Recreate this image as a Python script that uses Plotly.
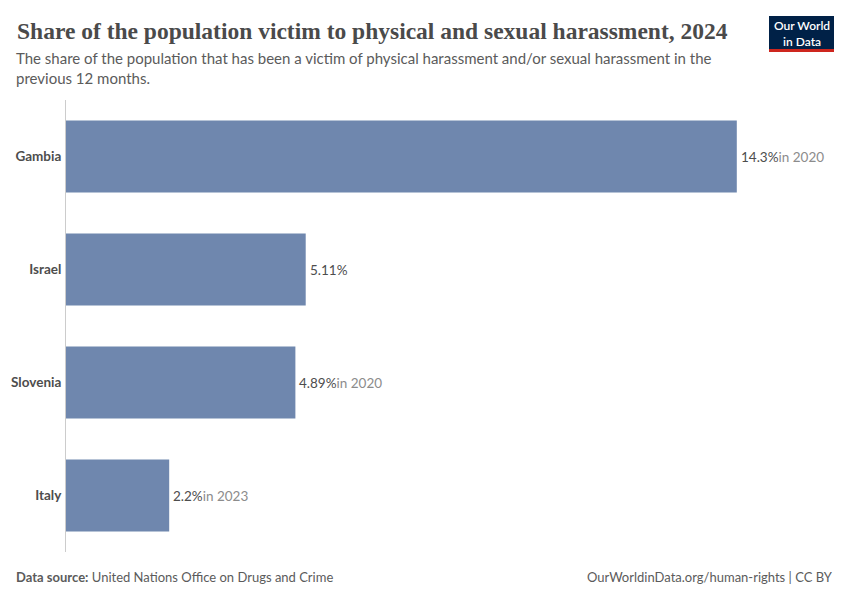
import plotly.graph_objects as go

# data
countries = ["Gambia", "Israel", "Slovenia", "Italy"]
values = [14.3, 5.11, 4.89, 2.2]
value_labels = ["14.3%", "5.11%", "4.89%", "2.2%"]
year_notes = ["in 2020", "", "in 2020", "in 2023"]

W, H = 850, 600
OFF = 8  # the page body adds an 8px margin, so shift everything back by that
L, R, T, B = 66 - OFF, 18, 100 - OFF, 56
BAR_COLOR = "#6f87ae"
GREY = "#5b5b5b"


# paper coords are relative to the plot area, so convert from screen pixels
def px(x):
    return (x - OFF - L) / (W - L - R)


def py(y):
    return (H - B - (y - OFF)) / (H - T - B)


fig = go.Figure()
fig.add_trace(go.Bar(
    x=values, y=countries, orientation="h",
    marker=dict(color=BAR_COLOR, line=dict(width=0)),
    hoverinfo="skip",
))

# value labels at bar ends
for c, v, lab, note in zip(countries, values, value_labels, year_notes):
    txt = f"<span style='color:#4d4d4d'>{lab}</span>"
    if note:
        txt += f"<span style='color:#8c8c8c'>{note}</span>"
    fig.add_annotation(x=v, y=c, xref="x", yref="y", text=txt, showarrow=False,
                       xanchor="left", xshift=2, font=dict(family="Lato", size=13.5))

fig.update_layout(
    width=W, height=H,
    margin=dict(l=L, r=R, t=T, b=B),
    paper_bgcolor="white", plot_bgcolor="white",
    bargap=0.363,
    showlegend=False,
    font=dict(family="Lato", color=GREY),
    xaxis=dict(range=[0, 16.5], showgrid=False, showticklabels=False, zeroline=False,
               showline=False, fixedrange=True, automargin=False),
    yaxis=dict(autorange="reversed", showgrid=False, zeroline=False, automargin=False,
               showline=True, linecolor="#cccccc", linewidth=1,
               ticks="", ticklabelstandoff=1,
               tickfont=dict(family="Lato", size=13.5, color="#4d4d4d", weight="bold")),
)

# title / subtitle
fig.add_annotation(x=px(15), y=py(31), xref="paper", yref="paper",
                   text="<b>Share of the population victim to physical and sexual harassment, 2024</b>",
                   showarrow=False, xanchor="left", yanchor="middle",
                   font=dict(family="Liberation Serif", size=23.5, color="#4a4a4a"))
fig.add_annotation(x=px(14), y=py(47), xref="paper", yref="paper",
                   text="The share of the population that has been a victim of physical harassment and/or sexual harassment in the<br>previous 12 months.",
                   showarrow=False, xanchor="left", yanchor="top", align="left",
                   font=dict(family="Lato", size=15, color=GREY))

# footer
fig.add_annotation(x=px(14), y=py(577), xref="paper", yref="paper",
                   text="<b>Data source:</b> United Nations Office on Drugs and Crime",
                   showarrow=False, xanchor="left", yanchor="middle",
                   font=dict(family="Lato", size=13, color=GREY))
fig.add_annotation(x=px(835), y=py(577), xref="paper", yref="paper",
                   text="OurWorldinData.org/human-rights | CC BY",
                   showarrow=False, xanchor="right", yanchor="middle",
                   font=dict(family="Lato", size=13, color=GREY))

# logo
fig.add_shape(type="rect", xref="paper", yref="paper",
              x0=px(769), x1=px(834), y0=py(49), y1=py(16),
              fillcolor="#002147", line=dict(width=0), layer="above")
fig.add_shape(type="rect", xref="paper", yref="paper",
              x0=px(769), x1=px(834), y0=py(52), y1=py(49),
              fillcolor="#ce261e", line=dict(width=0), layer="above")
fig.add_annotation(x=px(801.5), y=py(33), xref="paper", yref="paper",
                   text="Our World<br>in Data", showarrow=False,
                   xanchor="center", yanchor="middle",
                   font=dict(family="Lato", size=12, color="white", weight=600))

fig.write_html("out.html", config={"displayModeBar": False})
